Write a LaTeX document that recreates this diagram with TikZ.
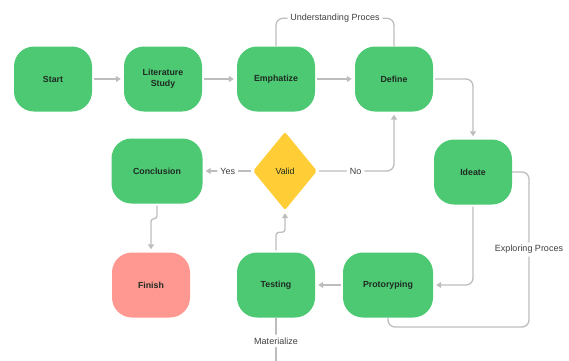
\documentclass[tikz,border=0pt]{standalone}
\usepackage{fontspec}
\setmainfont{Liberation Sans}
\usetikzlibrary{shapes.geometric,arrows.meta}
\definecolor{stepgreen}{HTML}{4DC873}
\definecolor{stoppink}{HTML}{FF9891}
\definecolor{askyellow}{HTML}{FFCD35}
\definecolor{linegray}{HTML}{BDBDBD}
\definecolor{ink}{HTML}{1E2B22}

\begin{document}
\begin{tikzpicture}[x=1pt,y=-1pt,
  box/.style={fill=stepgreen, rounded corners=20pt, minimum width=78pt, minimum height=65pt,
    align=center, text=ink, font=\bfseries\fontsize{8.8}{11}\selectfont},
  ask/.style={diamond, fill=askyellow, rounded corners=2pt, minimum width=64pt, minimum height=78pt,
    inner sep=0pt, text=ink, font=\fontsize{8.8}{11}\selectfont},
  wire/.style={draw=linegray, line width=1.3pt, rounded corners=7pt},
  go/.style={wire, -{Triangle[width=6pt,length=5pt]}, shorten >=3pt, shorten <=2pt},
  tag/.style={fill=white, inner sep=3pt, text=black!75, font=\fontsize{9}{11}\selectfont}
]
\useasboundingbox (0,0) rectangle (569,360);

% the steps
\node[box] (start) at (53,79) {Start};
\node[box] (lit) at (163,79) {Literature\\Study};
\node[box] (emph) at (276,79) {Emphatize};
\node[box] (def) at (394,79) {Define};
\node[box] (idea) at (473,172) {Ideate};
\node[box, minimum width=90pt] (proto) at (388,285) {Protoryping};
\node[box] (test) at (276,285) {Testing};
\node[ask] (valid) at (285,171) {Valid};
\node[box, minimum width=91pt] (concl) at (157,171) {Conclusion};
\node[box, fill=stoppink] (fin) at (151,285) {Finish};
\coordinate (loop) at (529,327);
\coordinate (tail) at (276,364);

% main flow
\draw[go] (start) -- (lit);
\draw[go] (lit) -- (emph);
\draw[go] (emph) -- (def);
\draw[go] (def.east) -| (idea.north);
\draw[go] (idea.south) |- (proto.east);
\draw[go] (proto) -- (test);
\draw[go, rounded corners=3pt] (test.north) -- ++(0,-20) -| (valid.south);
\draw[go] (valid) -- node[tag]{Yes} (concl);
\draw[go] (valid.east) -| node[tag, pos=0.25]{No} (def.south);
\draw[go, rounded corners=3pt] (concl.south) -- ++(0,15) -| (fin.north);

% side loops
\draw[wire] (emph.north) -- ++(0,-28) coordinate (up)
  -- node[tag]{Understanding Proces} (up -| def.north) -- (def.north);
\draw[wire] (idea.east) -| node[tag, pos=0.75]{Exploring Proces} (loop) -| (proto.south);
\draw[wire] (test.south) -- node[tag]{Materialize} (tail);
\end{tikzpicture}
\end{document}
